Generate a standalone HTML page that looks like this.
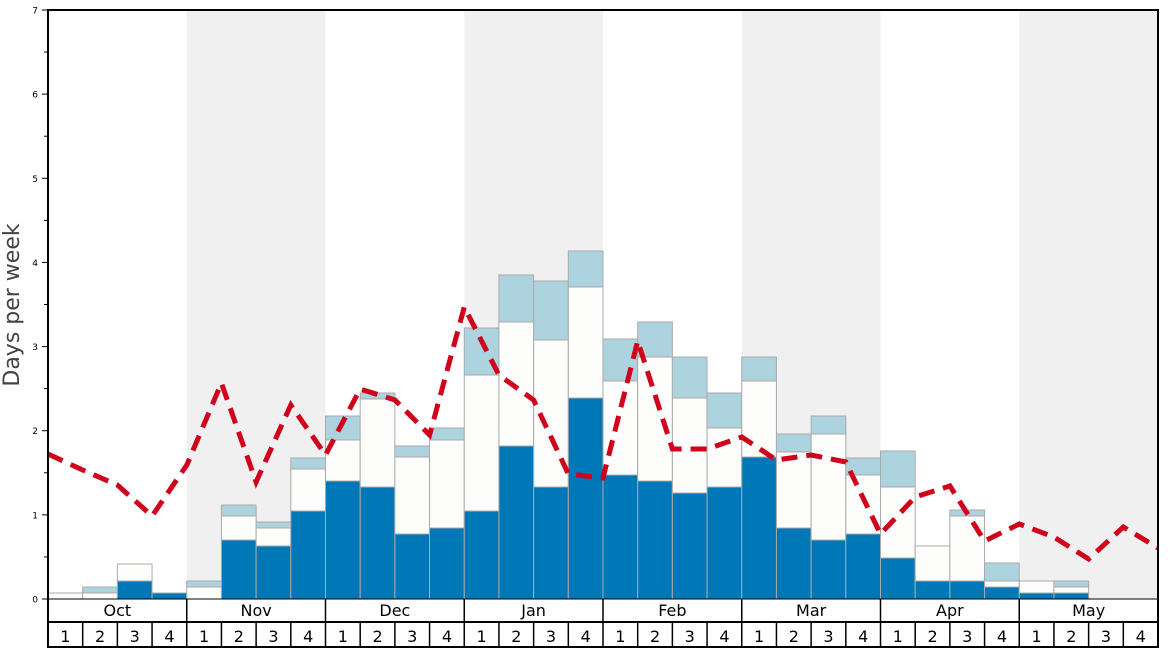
<!DOCTYPE html>
<html><head><meta charset="utf-8"><style>
html,body{margin:0;padding:0;background:#fff;width:1168px;height:648px;overflow:hidden}
svg{display:block;font-family:"DejaVu Sans","Liberation Sans",sans-serif}
</style></head><body>
<svg id="s" width="1168" height="648" xmlns="http://www.w3.org/2000/svg"></svg>
<script>
const s=document.getElementById('s');
let h='';
const X0=48,X1=1158,W=(X1-X0)/32,Y0=599,U=589/7;
const months=['Oct','Nov','Dec','Jan','Feb','Mar','Apr','May'];
for(let m=0;m<8;m++){ if(m%2==1) h+=`<rect x="${X0+m*4*W}" y="10" width="${4*W}" height="589" fill="#f0f0f0"/>`; }
const d=[[599,593,593],[599,593,587],[581,564,564],[593,593,593],[599,587,581],[540,516,505],[546,528,522],[511,469,458],
[481,440,416],[487,399,393],[534,457,446],[528,440,428],[511,375,328],[446,322,275],[487,340,281],[398,287,251],
[475,381,339],[481,357,322],[493,398,357],[487,428,393],[457,381,357],[528,452,434],[540,434,416],[534,475,458],
[558,487,451],[581,546,546],[581,516,510],[587,581,563],[593,581,581],[593,587,581],null,null];
d.forEach((v,i)=>{ if(!v)return; const x=X0+i*W;
 if(v[2]<v[1]) h+=`<rect x="${x}" y="${v[2]}" width="${W}" height="${v[1]-v[2]}" fill="#add3df" stroke="#aaa" stroke-width="1"/>`;
 if(v[1]<v[0]) h+=`<rect x="${x}" y="${v[1]}" width="${W}" height="${v[0]-v[1]}" fill="#fdfdfb" stroke="#aaa" stroke-width="1"/>`;
 if(v[0]<599) h+=`<rect x="${x}" y="${v[0]}" width="${W}" height="${599-v[0]}" fill="#0077b6" stroke="#aaa" stroke-width="1"/>`;
});
const ly=[454,470,485,516,465,383,482,405,455,389,400,435,307,375,400,474,478,341,449,449,437,460,455,462,534,497,486,541,524,537,559,527,548];
h+=`<polyline fill="none" stroke="#d0021b" stroke-width="5" stroke-dasharray="16 9" points="${ly.map((y,i)=>(X0+i*W).toFixed(1)+','+y).join(' ')}"/>`;
// axes
h+=`<rect x="${X0}" y="10" width="${X1-X0}" height="637" fill="none" stroke="#000" stroke-width="2"/>`;
for(let k=0;k<=14;k++){const y=Y0-k*U/2; h+=`<line x1="${X0-(k%2?4:6)}" y1="${y}" x2="${X0}" y2="${y}" stroke="#000"/>`; if(k%2==0) h+=`<text x="${X0-10}" y="${y+3.5}" font-size="9" text-anchor="end">${k/2}</text>`;}
h+=`<line x1="${X0}" y1="599" x2="${X1}" y2="599" stroke="#000"/><line x1="${X0}" y1="622" x2="${X1}" y2="622" stroke="#000" stroke-width="2"/>`;
for(let m=0;m<8;m++){const x=X0+m*4*W; if(m) h+=`<line x1="${x}" y1="599" x2="${x}" y2="647" stroke="#000" stroke-width="1.5"/>`;
 h+=`<text x="${x+2*W}" y="616" font-size="16" text-anchor="middle">${months[m]}</text>`;
 for(let w=0;w<4;w++){const xx=x+w*W; if(w) h+=`<line x1="${xx}" y1="622" x2="${xx}" y2="647" stroke="#000" stroke-width="1.5"/>`;
  h+=`<text x="${xx+W/2}" y="642" font-size="16" text-anchor="middle">${w+1}</text>`;}}
h+=`<text transform="translate(19,305) rotate(-90)" font-size="22" fill="#444" text-anchor="middle">Days per week</text>`;
s.innerHTML=h;
</script>
</body></html>
